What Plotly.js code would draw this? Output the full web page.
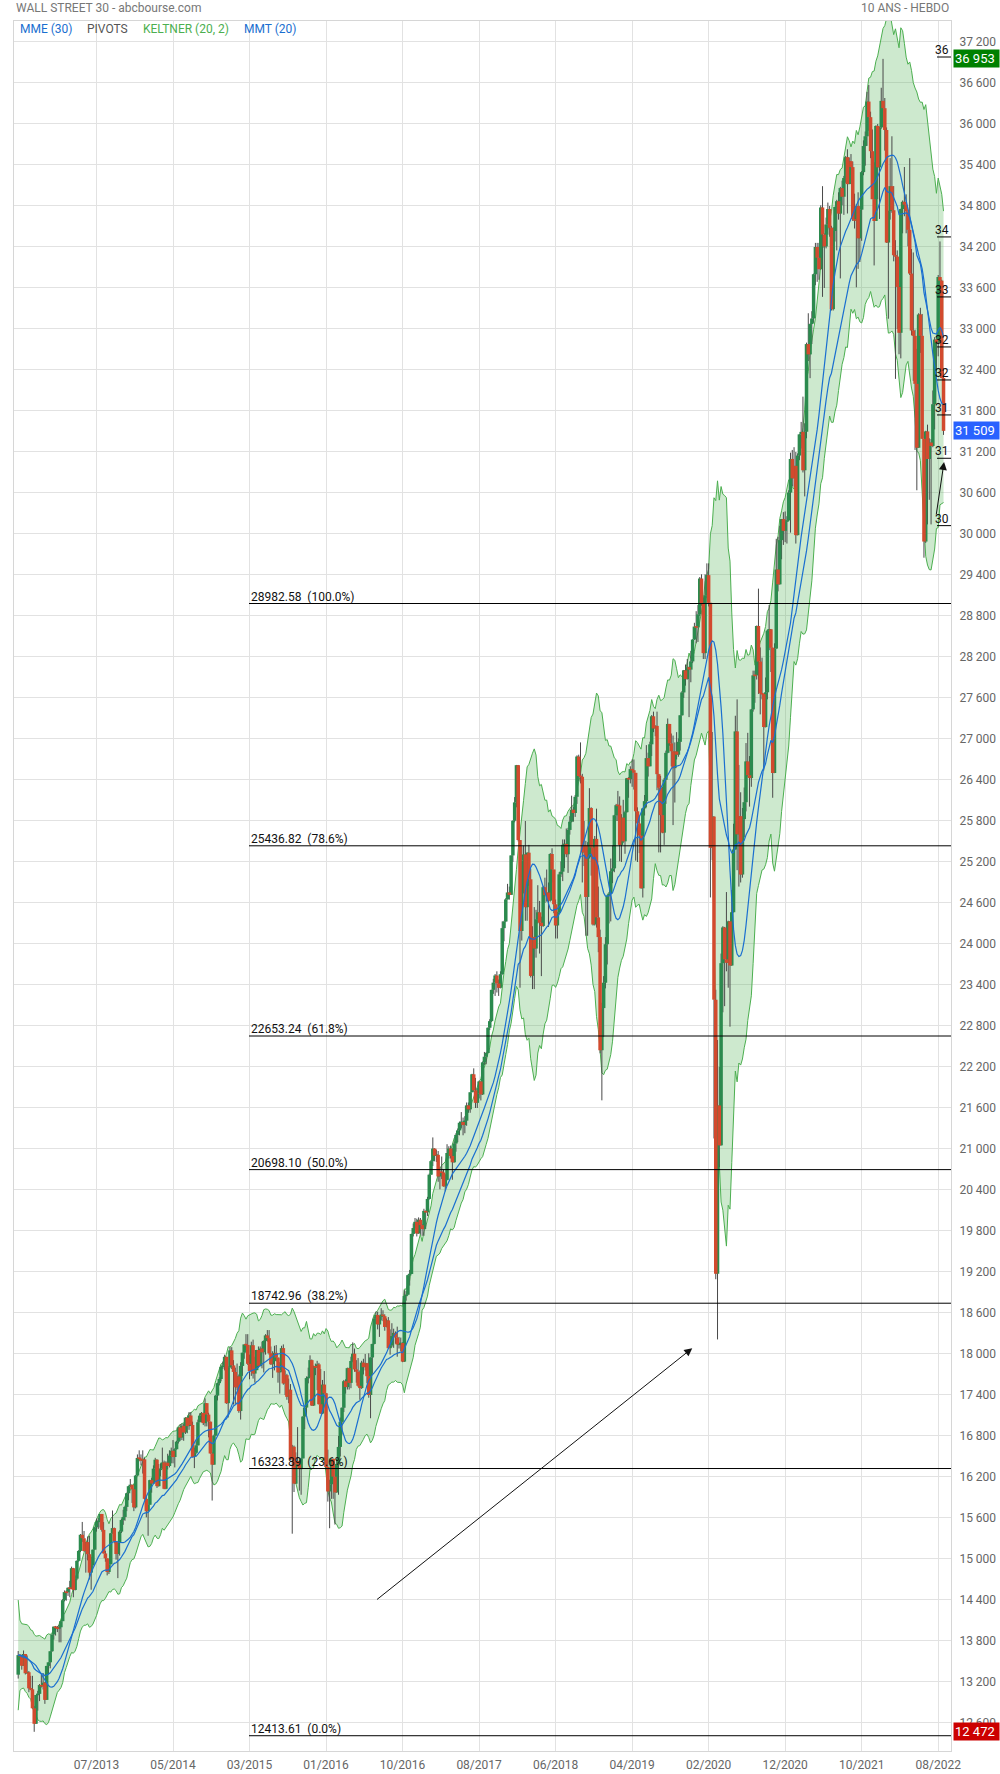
<!DOCTYPE html>
<html><head><meta charset="utf-8">
<script src="https://cdn.plot.ly/plotly-3.0.1.min.js"></script>
<style>html,body{margin:0;padding:0;background:#fff;}#chart{width:1000px;height:1774px;}</style>
</head><body><div id="chart"></div>
<script>
// Weekly candles, first week ending 2012-09-14, last week ending 2022-09-02
const closes = [
13593,13579,13437,13610,13328,13343,13107,13093,12815,12588,13010,13026,13155,13135,13191,12938,
13435,13488,13650,13896,14010,13993,13982,14001,14090,14397,14515,14512,14579,14565,14865,14547,14712,14973,15118,15354,15303,15116,15248,15070,14800,14910,15136,15464,15543,15559,15658,15426,15081,15010,14810,14922,15376,15452,15258,15073,15237,15400,15570,15615,15762,15962,16065,16086,16020,15755,16221,16479,
16470,16437,16458,15880,15699,15794,16154,16104,16322,16453,16066,16303,16323,16413,16027,16409,16361,16513,16584,16492,16606,16717,16924,16776,16948,16851,17068,16944,17100,16961,16493,16554,16663,17001,17098,17137,16988,17280,17113,17010,16544,16380,16805,17391,17573,17634,17810,17828,17959,17280,17804,18053,
17833,17737,17512,17672,17165,17825,18019,18140,18133,17856,17749,18128,17713,17763,18058,17826,18080,18024,18191,18272,18232,18011,17849,17898,18016,17947,17730,17760,18086,17568,17690,17373,17477,16460,16643,16102,16433,16385,16315,16472,17084,17216,17647,17664,17910,17245,17824,17798,17848,17265,17128,17552,17425,
16346,15988,16094,16466,16205,15974,16392,16640,17007,17213,17602,17516,17793,17577,17897,18004,17774,17740,17535,17501,17873,17807,17865,17675,17400,17949,18147,18517,18571,18432,18543,18577,18553,18395,18492,18085,18124,18262,18308,18240,18138,18146,18161,17888,18848,18868,19153,19171,19757,19843,19934,19763,
19964,19886,19827,20094,20071,20269,20624,20822,21006,20903,20915,20597,20663,20656,20453,20548,20941,21007,20897,20805,21080,21206,21272,21384,21395,21350,21414,21638,21580,21830,22093,21858,21675,21814,21988,21798,22268,22350,22405,22774,22871,23329,23434,23539,23422,23358,23558,24232,24329,24652,24754,24719,
25296,25803,26072,26617,25521,24190,25219,25310,24538,25336,24947,23533,24103,23933,24360,24463,24311,24263,24831,24715,24753,24635,25317,25090,24581,24271,24456,25019,25058,25451,25463,25313,25669,25790,25965,25917,26154,26743,26458,26447,25340,25444,24688,25270,25989,25413,24285,25538,24389,24101,22445,23062,
23433,23996,24706,24737,25064,25106,25883,26031,26026,25450,25849,25502,25929,26425,26412,26559,26543,26505,25942,25764,25586,24815,25984,26090,26720,26600,26922,27332,27154,27192,26485,26287,25886,25629,26403,26797,27220,26935,26820,26573,26817,26770,26958,27347,27681,28005,27876,28051,28015,28135,28455,28645,
28634,28823,29348,28990,28256,29102,29398,28992,25409,25864,23185,19174,21637,21053,23719,24242,23775,23724,24331,23685,24465,25383,27111,25605,25871,25016,25827,26075,26672,26470,26428,27433,27931,27930,28654,28133,27666,27657,27174,27683,28587,28606,28335,26502,28323,29480,29263,29910,30218,30046,30179,30200,30606,
31098,30814,30997,29983,31148,31458,31494,30932,31496,32779,32628,33072,33153,33801,34200,34043,33875,34778,34382,34208,34529,34756,34480,33290,34434,34786,34870,34688,35062,34935,35209,35515,35120,35456,35369,34608,34584,34798,34326,34746,35295,35677,35820,36328,36100,35602,34899,34580,35971,35365,35950,36338,
36231,35912,34265,34725,35090,34738,34079,34059,33615,32944,34755,34861,34818,34721,34451,33811,32977,32899,32197,31262,33213,32900,31393,29889,31501,31097,31338,31288,31899,32845,32803,33761,33707,32283,31509
];
const opens = [
13307,13593,13579,13437,13610,13328,13343,13107,13093,12815,12588,13010,13026,13155,13135,13191,
12938,13435,13488,13650,13896,14010,13993,13982,14001,14090,14397,14515,14512,14579,14565,14865,14547,14712,14973,15118,15354,15303,15116,15248,15070,14800,14910,15136,15464,15543,15559,15658,15426,15081,15010,14810,14922,15376,15452,15258,15073,15237,15400,15570,15615,15762,15962,16065,16086,16020,15755,16221,
16479,16470,16437,16458,15880,15699,15794,16154,16104,16322,16453,16066,16303,16323,16413,16027,16409,16361,16513,16584,16492,16606,16717,16924,16776,16948,16851,17068,16944,17100,16961,16493,16554,16663,17001,17098,17137,16988,17280,17113,17010,16544,16380,16805,17391,17573,17634,17810,17828,17959,17280,17804,
18053,17833,17737,17512,17672,17165,17825,18019,18140,18133,17856,17749,18128,17713,17763,18058,17826,18080,18024,18191,18272,18232,18011,17849,17898,18016,17947,17730,17760,18086,17568,17690,17373,17477,16460,16643,16102,16433,16385,16315,16472,17084,17216,17647,17664,17910,17245,17824,17798,17848,17265,17128,17552,
17425,16346,15988,16094,16466,16205,15974,16392,16640,17007,17213,17602,17516,17793,17577,17897,18004,17774,17740,17535,17501,17873,17807,17865,17675,17400,17949,18147,18517,18571,18432,18543,18577,18553,18395,18492,18085,18124,18262,18308,18240,18138,18146,18161,17888,18848,18868,19153,19171,19757,19843,19934,
19763,19964,19886,19827,20094,20071,20269,20624,20822,21006,20903,20915,20597,20663,20656,20453,20548,20941,21007,20897,20805,21080,21206,21272,21384,21395,21350,21414,21638,21580,21830,22093,21858,21675,21814,21988,21798,22268,22350,22405,22774,22871,23329,23434,23539,23422,23358,23558,24232,24329,24652,24754,
24719,25296,25803,26072,26617,25521,24190,25219,25310,24538,25336,24947,23533,24103,23933,24360,24463,24311,24263,24831,24715,24753,24635,25317,25090,24581,24271,24456,25019,25058,25451,25463,25313,25669,25790,25965,25917,26154,26743,26458,26447,25340,25444,24688,25270,25989,25413,24285,25538,24389,24101,22445,
23062,23433,23996,24706,24737,25064,25106,25883,26031,26026,25450,25849,25502,25929,26425,26412,26559,26543,26505,25942,25764,25586,24815,25984,26090,26720,26600,26922,27332,27154,27192,26485,26287,25886,25629,26403,26797,27220,26935,26820,26573,26817,26770,26958,27347,27681,28005,27876,28051,28015,28135,28455,
28645,28634,28823,29348,28990,28256,29102,29398,28992,25409,25864,23185,19174,21637,21053,23719,24242,23775,23724,24331,23685,24465,25383,27111,25605,25871,25016,25827,26075,26672,26470,26428,27433,27931,27930,28654,28133,27666,27657,27174,27683,28587,28606,28335,26502,28323,29480,29263,29910,30218,30046,30179,30200,
30606,31098,30814,30997,29983,31148,31458,31494,30932,31496,32779,32628,33072,33153,33801,34200,34043,33875,34778,34382,34208,34529,34756,34480,33290,34434,34786,34870,34688,35062,34935,35209,35515,35120,35456,35369,34608,34584,34798,34326,34746,35295,35677,35820,36328,36100,35602,34899,34580,35971,35365,35950,
36338,36231,35912,34265,34725,35090,34738,34079,34059,33615,32944,34755,34861,34818,34721,34451,33811,32977,32899,32197,31262,33213,32900,31393,29889,31501,31097,31338,31288,31899,32845,32803,33761,33707,32283
];
const highs = [
13653,13610,13580,13661,13610,13588,13360,13290,13290,12850,13010,13070,13170,13310,13330,13200,
13436,13488,13650,13896,14010,14020,14020,14035,14090,14414,14540,14540,14585,14680,14888,14870,14760,14980,15130,15365,15542,15410,15250,15330,15340,15030,15140,15470,15590,15600,15660,15660,15540,15120,15010,14990,15380,15710,15460,15260,15240,15420,15590,15720,15780,15970,16070,16170,16090,16030,16230,16530,
16590,16530,16590,16480,15920,15800,16160,16190,16370,16480,16460,16390,16400,16630,16440,16430,16540,16590,16630,16740,16620,16730,16930,16970,16980,16980,17075,17070,17150,17150,17010,16630,16720,17040,17130,17150,17140,17350,17280,17140,17010,16560,16820,17400,17580,17660,17830,17890,17990,17960,17820,18100,
18100,17910,17800,17860,17700,17880,18020,18140,18290,18290,17990,18180,18210,17960,18060,18110,18110,18180,18200,18290,18350,18350,18110,18040,18120,18130,17950,17880,18120,18140,17760,17710,17640,17560,16670,16660,16560,16930,16450,16480,17090,17220,17670,17800,17980,17920,17830,17860,17900,17870,17780,17620,17750,
17430,16600,16160,16470,16470,16210,16470,16800,17070,17220,17620,17630,17800,17800,17960,18170,18080,17910,17940,17760,17900,17930,18000,17870,18010,17950,18150,18540,18620,18620,18560,18670,18640,18580,18520,18540,18360,18450,18370,18330,18400,18250,18240,18170,18934,18920,19160,19230,19760,19910,19990,19980,
19999,19990,19900,20125,20100,20300,20640,20840,21169,21010,20990,20970,20730,20890,20700,20630,21070,21040,21050,21010,21110,21230,21300,21400,21540,21460,21480,21680,21680,21830,22100,22180,22040,21890,22000,21990,22280,22420,22420,22780,22900,23330,23490,23560,23600,23480,23600,24330,24340,24670,24880,24840,
25300,25810,26150,26620,26620,25520,25430,25440,25800,25340,25450,25100,24260,24540,24500,24860,24630,24400,24850,24970,25090,24900,25330,25400,25090,24650,24470,25050,25210,25530,25530,25690,25700,25870,26170,26010,26180,26760,26770,26950,26490,25800,25510,25490,26280,26000,25420,25580,25980,24840,24210,23140,
23530,24100,24720,24760,25250,25440,25890,26050,26240,26160,25900,26110,25950,26430,26440,26600,26700,26700,26400,26000,25880,25640,25990,26180,26910,26800,26960,27350,27400,27200,27400,26490,26460,26300,26430,26830,27300,27220,27080,27050,26950,27100,27010,27350,27700,28010,28090,28170,28060,28290,28460,28700,
28870,28960,29370,29410,29070,29410,29570,29570,28990,27102,25870,23330,22595,22200,23860,24260,24250,24760,24340,24330,24790,25760,27340,27580,26620,26220,25990,26290,26940,27090,26750,27440,28000,28000,28660,29200,28340,28190,27660,27900,28600,28960,28610,28340,28400,29930,29960,30120,30220,30320,30330,30260,30640,
31190,31230,31270,31200,31180,31460,31640,32010,31620,32800,33230,33080,33260,33810,34260,34260,34260,34810,35090,34400,34630,34850,34800,34510,34490,34790,34890,35000,35080,35170,35240,35530,35630,35510,35560,35450,34980,34830,35000,34800,35310,35760,35890,36470,36570,36180,35920,35440,35980,36000,35960,36530,
36953,36380,35950,34730,35500,35820,35090,34300,34150,33630,34760,34880,35370,34970,34600,35500,34170,34120,32990,32710,33230,33310,33220,31390,31510,31600,31400,31390,32100,32880,32900,33790,34281,33720,32430
];
const lows = [
13250,13500,13380,13437,13310,13320,13050,13080,12810,12471,12588,12780,12920,13120,13090,12880,
12938,13310,13400,13640,13820,13880,13930,13780,13780,14090,14380,14390,14460,14440,14560,14440,14540,14690,14960,15100,15250,15110,14800,14980,14700,14550,14890,15130,15400,15440,15460,15400,15080,14960,14760,14780,14920,15370,15230,14990,14720,15050,15380,15500,15560,15700,15860,16050,15820,15700,15740,16220,
16430,16370,16250,15870,15610,15340,15790,15970,16100,16130,16040,16060,16210,16320,16020,16020,16310,16340,16400,16400,16340,16600,16690,16730,16740,16730,16830,16840,16890,16950,16490,16330,16540,16660,17000,17000,16960,16940,16940,16780,16540,15855,16380,16800,17320,17540,17600,17780,17760,17270,17070,17790,
17780,17260,17270,17470,17140,17040,17680,17930,18060,17840,17630,17680,17640,17580,17760,17800,17820,17790,17730,17990,18180,17990,17840,17650,17760,17890,17580,17420,17740,17550,17400,17330,17280,16450,15370,15980,16100,16350,16000,15940,16470,16900,17100,17570,17660,17240,17240,17690,17470,17260,17130,17120,17420,
16310,15840,15450,15880,15880,15503,15970,15940,16500,16820,17150,17420,17480,17480,17500,17880,17740,17580,17520,17330,17490,17700,17760,17570,17360,17060,17710,18140,18440,18360,18250,18490,18480,18340,18390,18080,17990,18100,18090,18150,17960,18080,18040,17880,17883,18780,18860,19000,19170,19720,19830,19720,
19760,19750,19730,19730,19830,20020,20260,20620,20750,20820,20810,20520,20410,20560,20450,20380,20540,20860,20860,20550,20800,20960,21100,21200,21300,21200,21230,21340,21530,21530,21830,21840,21600,21600,21740,21710,21790,22230,22240,22400,22740,22860,23270,23240,23290,23240,23350,23550,24040,24320,24650,24650,
24740,25200,25780,26000,25500,23360,24050,24740,24340,24340,24850,23510,23340,23340,23800,24300,23860,23530,24250,24600,24620,24250,24620,24900,24450,24080,24080,24450,24980,24920,25110,25270,25040,25600,25780,25790,25860,26050,26380,26350,24900,25140,24120,24120,25250,25000,24270,24270,24240,23880,22400,21712,
22640,23350,23700,24300,24330,24890,25050,25800,25800,25210,25200,25480,25320,25920,26140,26350,26300,26260,25220,25200,25330,24810,24680,25880,26000,26450,26600,26750,27100,27040,26250,25340,25340,25620,25450,26050,26790,26900,26600,25740,26070,26700,26740,26830,27340,27600,27780,27870,27320,27830,28110,28450,
28400,28420,28800,28950,28170,28170,29060,28940,24681,25226,21154,19094,18213,20735,21050,23000,23090,23600,23360,22790,23680,24460,25380,25080,24840,24900,24970,25560,25940,26450,26010,26300,27400,27530,27870,27660,27360,27580,26540,27170,27580,28300,27980,26140,26500,28320,29160,29260,29630,29840,29880,29860,30190,
30020,30700,30690,29860,29980,31080,31250,30900,30550,31400,32530,32280,32780,33090,33640,33690,33720,33870,33470,33600,34180,34380,34350,33270,33270,34280,34150,34600,33740,34810,34670,35140,34690,35120,35260,34580,34470,33610,33880,33980,34290,35250,35390,35680,35900,35500,34900,33930,34580,34900,34610,35930,
36200,35610,34260,33150,34600,34700,33990,32270,33000,32630,32570,34400,34650,34400,34210,33790,32910,32240,31230,30640,31260,32650,31390,29653,29870,30140,30500,30140,31270,31530,32300,32600,33620,32280,31450
];
const tickPos = [44,87,130,173,216,259,302,345,388,431,474,517];
const tickLabels = ['07/2013','05/2014','03/2015','01/2016','10/2016','08/2017','06/2018','04/2019','02/2020','12/2020','10/2021','08/2022'];
const fibLevels = [12413.61,16323.89,18742.96,20698.10,22653.24,25436.82,28982.58];
const fibPct = ['0.0%','23.6%','38.2%','50.0%','61.8%','78.6%','100.0%'];
const pivotLevels = [36980,34347,33469,32737,32254,31742,31108,30122];
const priceBoxes = [
  {v:36953, color:'#008000'},
  {v:31509, color:'#2962ff'},
  {v:12472, color:'#cc0000'}
];
const arrows = [
  {from:[200.8,14390], to:[378.8,18085]},
  {from:[515.8,30264], to:[520.3,31054]}
];

// ---------- indicators computed from the candle data ----------
const N = closes.length;
const idx = closes.map((_, i) => i);
const H = highs.map((h, i) => Math.max(h, opens[i], closes[i]));
const L = lows.map((l, i) => Math.min(l, opens[i], closes[i]));
function ema(a, n) { const k = 2 / (n + 1); let e = a[0]; return a.map((v, i) => i ? (e = e + k * (v - e)) : e); }
function sma(a, n) { return a.map((_, i) => { const s = Math.max(0, i - n + 1); let t = 0; for (let j = s; j <= i; j++) t += a[j]; return t / (i - s + 1); }); }
const tr = closes.map((c, i) => i ? Math.max(H[i] - L[i], Math.abs(H[i] - closes[i - 1]), Math.abs(L[i] - closes[i - 1])) : H[i] - L[i]);
const kMid = ema(closes, 20);
const atr = sma(tr, 10);
const kUp = kMid.map((m, i) => m + 2 * atr[i]);
const kLo = kMid.map((m, i) => m - 2 * atr[i]);
const mme30 = ema(closes, 30);
const mmt20 = sma(sma(closes, 10), 11);

// wicks and bodies as segments
const wx = [], wy = [], gx = [], gy = [], rx = [], ry = [];
for (let i = 0; i < N; i++) {
  wx.push(i, i, null); wy.push(L[i], H[i], null);
  let lo = Math.min(opens[i], closes[i]), hi = Math.max(opens[i], closes[i]);
  if (hi - lo < 24) { const m = (hi + lo) / 2; lo = m - 12; hi = m + 12; }
  if (closes[i] >= opens[i]) { gx.push(i, i, null); gy.push(lo, hi, null); }
  else { rx.push(i, i, null); ry.push(lo, hi, null); }
}

const traces = [
  {x: idx, y: kUp, type: 'scatter', mode: 'lines', line: {color: '#4caf50', width: 1}, hoverinfo: 'skip'},
  {x: idx, y: kLo, type: 'scatter', mode: 'lines', line: {color: '#4caf50', width: 1}, fill: 'tonexty', fillcolor: 'rgba(76,175,80,0.28)', hoverinfo: 'skip'},
  {x: wx, y: wy, type: 'scatter', mode: 'lines', line: {color: '#4a4a4a', width: 1}, hoverinfo: 'skip', connectgaps: false},
  {x: gx, y: gy, type: 'scatter', mode: 'lines', line: {color: '#2b8a4e', width: 3.5}, hoverinfo: 'skip', connectgaps: false},
  {x: rx, y: ry, type: 'scatter', mode: 'lines', line: {color: '#d24a2e', width: 3.5}, hoverinfo: 'skip', connectgaps: false},
  {x: idx, y: mme30, type: 'scatter', mode: 'lines', line: {color: '#1a6fd0', width: 1.2}, hoverinfo: 'skip'},
  {x: idx, y: mmt20, type: 'scatter', mode: 'lines', line: {color: '#1a6fd0', width: 1.2}, hoverinfo: 'skip'}
];

const fibX0 = (249 - 14) / 937;
const shapes = [];
const annotations = [];
fibLevels.forEach((v, k) => {
  shapes.push({type: 'line', xref: 'paper', yref: 'y', x0: fibX0, x1: 1, y0: v, y1: v, line: {color: '#000', width: 1}, layer: 'above'});
  annotations.push({xref: 'paper', yref: 'y', x: fibX0, y: v, xanchor: 'left', yanchor: 'bottom', yshift: -2, showarrow: false,
    text: v.toFixed(2) + '\u00a0\u00a0(' + fibPct[k] + ')', font: {size: 12, color: '#111'}});
});
const pivX0 = (937 - 14) / 937;
pivotLevels.forEach(v => {
  shapes.push({type: 'line', xref: 'paper', yref: 'y', x0: pivX0, x1: 1, y0: v, y1: v, line: {color: '#000', width: 1}, layer: 'above'});
  annotations.push({xref: 'paper', yref: 'y', x: 1, y: v, xanchor: 'right', yanchor: 'bottom', yshift: -2, showarrow: false,
    text: String(Math.floor(v / 1000)), font: {size: 12, color: '#111'}});
});
function fmt(v) { const s = String(Math.round(v)); return s.slice(0, s.length - 3) + ' ' + s.slice(-3); }
priceBoxes.forEach(b => {
  annotations.push({xref: 'paper', yref: 'y', x: 1, xshift: 2, y: b.v, xanchor: 'left', yanchor: 'middle', showarrow: false,
    text: fmt(b.v), bgcolor: b.color, font: {size: 13, color: '#fff'}, width: 43, height: 15, align: 'left', borderpad: 1});
});
arrows.forEach(a => {
  annotations.push({xref: 'x', yref: 'y', axref: 'x', ayref: 'y', x: a.to[0], y: a.to[1], ax: a.from[0], ay: a.from[1],
    showarrow: true, arrowhead: 2, arrowsize: 1.6, arrowwidth: 1, arrowcolor: '#111', text: ''});
});
// header + legend
annotations.push({xref: 'paper', yref: 'paper', x: 0, y: 1, yshift: 13, xanchor: 'left', yanchor: 'middle', showarrow: false,
  text: 'WALL STREET 30 - abcbourse.com', font: {size: 12, color: '#777'}});
annotations.push({xref: 'paper', yref: 'paper', x: 1, y: 1, yshift: 13, xanchor: 'right', yanchor: 'middle', showarrow: false,
  text: '10 ANS - HEBDO', font: {size: 12, color: '#777'}});
const legendItems = [
  {t: 'MME (30)', c: '#1a6fd0', px: 19},
  {t: 'PIVOTS', c: '#555', px: 86},
  {t: 'KELTNER (20, 2)', c: '#4caf50', px: 142},
  {t: 'MMT (20)', c: '#1a6fd0', px: 243}
];
legendItems.forEach(it => {
  annotations.push({xref: 'paper', yref: 'paper', x: 0, xshift: it.px - 15, y: 1, yshift: -8, xanchor: 'left', yanchor: 'middle', showarrow: false,
    text: it.t, font: {size: 12, color: it.c}});
});

const layout = {
  width: 1000, height: 1774,
  margin: {l: 14, r: 49, t: 21, b: 23, pad: 0},
  paper_bgcolor: '#fff', plot_bgcolor: '#fff',
  showlegend: false,
  separators: ', ',
  font: {family: 'Roboto, sans-serif', size: 12, color: '#666'},
  xaxis: {range: [-2.36, 524.2], tickmode: 'array', tickvals: tickPos, ticktext: tickLabels, showgrid: true, gridcolor: '#e2e2e2', gridwidth: 1,
    zeroline: false, showline: true, mirror: true, linecolor: '#d6d6d6', ticks: '', ticklabelstandoff: 3, tickfont: {size: 12, color: '#666'}, fixedrange: true},
  yaxis: {side: 'right', range: [12190, 37507], tick0: 12600, dtick: 600, tickformat: ',d', showgrid: true, gridcolor: '#e2e2e2', gridwidth: 1,
    zeroline: false, showline: true, mirror: true, linecolor: '#d6d6d6', ticks: '', ticklabelstandoff: 5, tickfont: {size: 12, color: '#666'}, fixedrange: true},
  shapes: shapes,
  annotations: annotations
};
Plotly.newPlot('chart', traces, layout, {staticPlot: true, displayModeBar: false});
</script>
</body></html>
